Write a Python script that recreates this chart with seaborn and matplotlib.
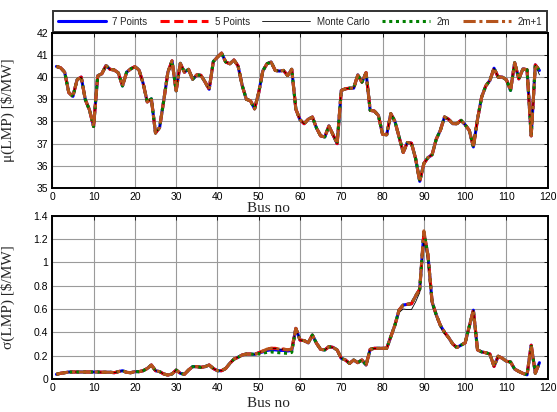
import matplotlib
matplotlib.use('Agg')
import matplotlib.pyplot as plt
import seaborn as sns
import numpy as np
import pandas as pd
from matplotlib.ticker import FormatStrFormatter

# bus numbers 1..118
bus = list(range(1, 119))

# mean LMP (all methods overlap)
mu = [40.48, 40.42, 40.22, 39.30, 39.13, 39.88, 40.00, 38.98, 38.52, 37.77,
      40.06, 40.15, 40.52, 40.35, 40.32, 40.19, 39.60, 40.22, 40.37, 40.47,
      40.32, 39.72, 38.88, 39.02, 37.48, 37.73, 38.95, 40.22, 40.73, 39.38,
      40.62, 40.22, 40.35, 39.90, 40.10, 40.08, 39.78, 39.45, 40.70, 40.90,
      41.08, 40.68, 40.60, 40.77, 40.50, 39.62, 39.00, 38.93, 38.57, 39.30,
      40.28, 40.60, 40.68, 40.30, 40.27, 40.30, 40.07, 40.35, 38.55, 38.08,
      37.90, 38.10, 38.20, 37.70, 37.35, 37.30, 37.80, 37.40, 37.00, 39.40,
      39.47, 39.50, 39.50, 40.10, 39.77, 40.20, 38.50, 38.47, 38.27, 37.42,
      37.40, 38.35, 38.00, 37.30, 36.60, 37.05, 37.02, 36.33, 35.30, 36.10,
      36.37, 36.50, 37.20, 37.60, 38.20, 38.10, 37.90, 37.90, 38.05, 37.85,
      37.60, 36.85, 38.10, 39.10, 39.60, 39.85, 40.40, 40.00, 40.00, 39.88,
      39.40, 40.65, 39.92, 40.37, 40.33, 37.35, 40.55, 40.30]
mu_mc_diff = {118: 40.10}

# std of LMP (2m+1 / 5 points)
sig = [0.040, 0.049, 0.054, 0.060, 0.060, 0.060, 0.060, 0.060, 0.060, 0.060,
       0.060, 0.058, 0.058, 0.058, 0.054, 0.063, 0.071, 0.057, 0.054, 0.063,
       0.063, 0.071, 0.090, 0.120, 0.071, 0.063, 0.043, 0.034, 0.043, 0.077,
       0.049, 0.040, 0.077, 0.106, 0.106, 0.100, 0.106, 0.120, 0.090, 0.071,
       0.071, 0.090, 0.134, 0.170, 0.186, 0.206, 0.214, 0.214, 0.211, 0.225,
       0.240, 0.256, 0.263, 0.263, 0.256, 0.256, 0.250, 0.256, 0.434, 0.334,
       0.329, 0.310, 0.377, 0.306, 0.254, 0.249, 0.277, 0.271, 0.249, 0.177,
       0.163, 0.134, 0.163, 0.140, 0.163, 0.120, 0.254, 0.263, 0.263, 0.263,
       0.263, 0.363, 0.463, 0.591, 0.634, 0.640, 0.645, 0.710, 0.770, 1.270,
       1.060, 0.660, 0.550, 0.460, 0.400, 0.355, 0.300, 0.270, 0.290, 0.310,
       0.450, 0.590, 0.250, 0.232, 0.225, 0.214, 0.108, 0.195, 0.178, 0.152,
       0.146, 0.085, 0.065, 0.048, 0.036, 0.290, 0.050, 0.140]
# where other methods depart from that curve
sig_7_diff = {51: 0.232, 52: 0.245, 53: 0.250, 54: 0.250, 55: 0.245, 56: 0.245,
              57: 0.240, 58: 0.245, 90: 1.250}
sig_5_diff = {90: 1.250}
sig_mc_diff = {84: 0.570, 85: 0.600, 86: 0.595, 87: 0.595, 88: 0.660, 89: 0.740,
               90: 1.200, 91: 1.000, 92: 0.640, 93: 0.530, 94: 0.445, 95: 0.390}
sig_2m_diff = {50: 0.215, 51: 0.222, 52: 0.228, 53: 0.232, 54: 0.228, 55: 0.225,
               56: 0.222, 57: 0.220, 58: 0.228}

methods = ['7 Points', '5 Points', 'Monte Carlo', '2m', '2m+1']


def with_diff(base, diff):
    return [diff.get(b, v) for b, v in zip(bus, base)]


mu_data = {'7 Points': mu, '5 Points': mu, 'Monte Carlo': with_diff(mu, mu_mc_diff),
           '2m': mu, '2m+1': mu}
sig_data = {'7 Points': with_diff(sig, sig_7_diff), '5 Points': with_diff(sig, sig_5_diff),
            'Monte Carlo': with_diff(sig, sig_mc_diff), '2m': with_diff(sig, sig_2m_diff),
            '2m+1': sig}

styles = {'7 Points': dict(color='#0000FF', lw=2.2, ls='-'),
          '5 Points': dict(color='#FF0000', lw=2.2, ls=(0, (3, 1.5))),
          'Monte Carlo': dict(color='black', lw=0.6, ls='-'),
          '2m': dict(color='#008000', lw=2.2, ls=(0, (1, 1.2))),
          '2m+1': dict(color='#B5541C', lw=2.2, ls=(0, (4, 1.2, 1, 1.2)))}

sns.set_style('white')
plt.rcParams['font.family'] = ['Liberation Sans', 'DejaVu Sans']

fig = plt.figure(figsize=(5.57, 4.12), dpi=100)
ax1 = fig.add_axes([0.0939, 0.5437, 0.8894, 0.3769])
ax2 = fig.add_axes([0.0939, 0.0801, 0.8894, 0.3964])

for m in methods:
    df = pd.DataFrame({'bus': bus, 'mu': mu_data[m], 'sig': sig_data[m]})
    st = styles[m]
    sns.lineplot(data=df, x='bus', y='mu', ax=ax1, color=st['color'], lw=st['lw'],
                 linestyle=st['ls'], label=m, legend=False)
    sns.lineplot(data=df, x='bus', y='sig', ax=ax2, color=st['color'], lw=st['lw'],
                 linestyle=st['ls'], legend=False)

for ax in (ax1, ax2):
    ax.set_xlim(0, 120)
    ax.set_xticks(range(0, 121, 10))
    ax.grid(True, color='#9a9a9a', lw=0.8)
    ax.tick_params(direction='in', length=3, width=0.6, top=True, right=True,
                   labelsize=7.5, pad=3, colors='black')
    for s in ax.spines.values():
        s.set_color('black')
        s.set_linewidth(1.4)
    ax.set_axisbelow(True)

ax1.set_ylim(35, 42)
ax1.set_yticks(range(35, 43))
ax2.set_ylim(0, 1.4)
ax2.set_yticks(np.arange(0, 1.41, 0.2))
ax2.yaxis.set_major_formatter(FormatStrFormatter('%g'))

serif = ['Liberation Serif', 'DejaVu Serif']
ax1.set_xlabel('Bus no', family=serif, fontsize=11)
ax2.set_xlabel('Bus no', family=serif, fontsize=11)
ax1.xaxis.set_label_coords(0.437, -0.092)
ax2.xaxis.set_label_coords(0.437, -0.108)
ax1.set_ylabel('\u03bc(LMP) [$/MW]', family=serif, fontsize=11)
ax2.set_ylabel('\u03c3(LMP) [$/MW]', family=serif, fontsize=11)
ax1.yaxis.set_label_coords(-0.075, 0.5)
ax2.yaxis.set_label_coords(-0.075, 0.5)

handles, labels = ax1.get_legend_handles_labels()
leg = fig.legend(handles, labels, loc='center', ncol=5,
                 bbox_to_anchor=(0.5386, 0.947), borderaxespad=0,
                 fontsize=7, frameon=True, fancybox=False, handlelength=4.9,
                 handletextpad=0.7, columnspacing=1.3, borderpad=0.55)
leg.get_frame().set_edgecolor('black')
leg.get_frame().set_linewidth(1.4)

fig.savefig('out.png', dpi=100)
